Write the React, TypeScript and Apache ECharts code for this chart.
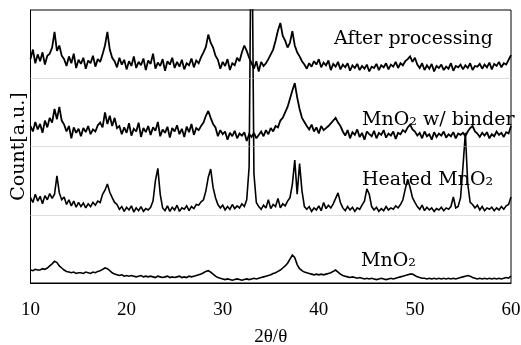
import React, { useEffect, useRef } from "react";
import * as echarts from "echarts";

// 2θ grid: start and step of the sampled patterns (degrees)
const xStart = 10;
const xStep = 0.25;
const xTicks = [10, 20, 30, 40, 50, 60];

const seriesNames = ["After processing", "MnO₂ w/ binder", "Heated MnO₂", "MnO₂"];
const offsets = [3, 2, 1, 0];

// intensities (a.u., relative to each pattern's own baseline band)
const mno2 = [
  0.19, 0.18, 0.2, 0.19, 0.19, 0.21, 0.2,
  0.22, 0.25, 0.28, 0.32, 0.3, 0.25, 0.22, 0.19, 0.17,
  0.16, 0.15, 0.16, 0.14, 0.15, 0.15, 0.14, 0.16, 0.15, 0.14, 0.16, 0.15,
  0.17, 0.18, 0.2, 0.22, 0.21, 0.18, 0.15, 0.13,
  0.12, 0.11, 0.12, 0.1, 0.11, 0.1, 0.11, 0.1, 0.09, 0.1, 0.11, 0.09, 0.1, 0.09, 0.1, 0.09, 0.08, 0.1, 0.09, 0.08, 0.09, 0.1, 0.08, 0.09, 0.08, 0.09, 0.1, 0.08, 0.09, 0.08, 0.1, 0.09, 0.1, 0.11, 0.12, 0.13,
  0.15, 0.17, 0.18, 0.16, 0.13, 0.1, 0.08, 0.07,
  0.06, 0.05, 0.06, 0.05, 0.04, 0.05, 0.06, 0.05, 0.04, 0.05, 0.06, 0.05, 0.06, 0.07, 0.06, 0.07, 0.08, 0.09, 0.1, 0.11,
  0.12, 0.14, 0.15, 0.17, 0.19, 0.22, 0.25, 0.29, 0.35, 0.41, 0.37, 0.27, 0.21, 0.18, 0.16, 0.15,
  0.14, 0.13, 0.12, 0.13, 0.12, 0.13, 0.12, 0.13, 0.14, 0.15,
  0.17, 0.19, 0.16, 0.13, 0.11, 0.1,
  0.09, 0.08, 0.09, 0.08, 0.07, 0.08, 0.07, 0.06, 0.07, 0.06, 0.07, 0.06, 0.05, 0.06, 0.07, 0.06, 0.05, 0.06, 0.07, 0.06, 0.07, 0.08, 0.09, 0.1,
  0.11, 0.12, 0.13, 0.13, 0.11, 0.09, 0.08, 0.07,
  0.07, 0.06, 0.07, 0.06, 0.07, 0.06, 0.07, 0.06, 0.07, 0.06, 0.07, 0.06, 0.07, 0.06, 0.07, 0.08, 0.09,
  0.1, 0.11, 0.1, 0.08,
  0.07, 0.06, 0.07, 0.06, 0.07, 0.06, 0.07, 0.06, 0.07, 0.06, 0.07, 0.06, 0.07, 0.08, 0.07, 0.1,
];

const heated = [
  0.25, 0.18, 0.3, 0.2, 0.27, 0.16, 0.28, 0.22, 0.31, 0.24,
  0.3, 0.57, 0.32, 0.22,
  0.26, 0.15, 0.22, 0.13, 0.2, 0.11, 0.18, 0.12, 0.17, 0.1, 0.16, 0.12, 0.18, 0.14,
  0.2, 0.18, 0.3, 0.36, 0.45, 0.33, 0.25, 0.18,
  0.15, 0.08, 0.12, 0.05, 0.11, 0.07, 0.13, 0.04, 0.1, 0.06, 0.12, 0.05, 0.09, 0.07, 0.11,
  0.2, 0.5, 0.68, 0.3, 0.1,
  0.06, 0.13, 0.05, 0.11, 0.07, 0.14, 0.05, 0.1, 0.08, 0.13, 0.06, 0.12, 0.09, 0.15,
  0.14, 0.19, 0.22, 0.35, 0.55, 0.67, 0.4, 0.25, 0.15,
  0.1, 0.14, 0.07, 0.12, 0.08, 0.15, 0.09, 0.13, 0.1, 0.16, 0.12,
  0.22, 0.7, 5.0, 0.6, 0.18,
  0.12, 0.08, 0.14, 0.1, 0.22, 0.09, 0.15, 0.12, 0.24, 0.1, 0.16, 0.13, 0.2,
  0.25, 0.45, 0.8, 0.3, 0.75, 0.35, 0.12,
  0.08, 0.12, 0.05, 0.1, 0.07, 0.13, 0.06, 0.18, 0.09, 0.14, 0.1, 0.16,
  0.24, 0.32, 0.18,
  0.1, 0.06, 0.12, 0.07, 0.11, 0.05, 0.1, 0.08, 0.14,
  0.2, 0.38, 0.3, 0.12,
  0.07, 0.11, 0.05, 0.09, 0.06, 0.12, 0.07, 0.1, 0.08, 0.13, 0.1, 0.15,
  0.22, 0.38, 0.52, 0.4, 0.25, 0.18,
  0.12, 0.08, 0.14, 0.06, 0.11, 0.07, 0.1, 0.05, 0.09, 0.07, 0.11, 0.06, 0.1, 0.08, 0.12,
  0.26, 0.1, 0.12, 0.25, 0.7, 1.2, 0.45, 0.18,
  0.15, 0.1, 0.14, 0.07, 0.12, 0.06, 0.1, 0.08, 0.11, 0.06, 0.1, 0.07, 0.12, 0.08, 0.13, 0.15, 0.26,
];

const binder = [
  0.3, 0.22, 0.36, 0.25, 0.33, 0.2, 0.38, 0.28,
  0.42, 0.35, 0.55, 0.4, 0.58, 0.38,
  0.32, 0.22, 0.3, 0.12, 0.28, 0.2, 0.26, 0.15, 0.27, 0.21, 0.3, 0.18, 0.25, 0.22, 0.31,
  0.35, 0.28, 0.5, 0.33, 0.45, 0.3, 0.42, 0.27,
  0.3, 0.18, 0.28, 0.2, 0.34, 0.16, 0.26, 0.22, 0.35, 0.14, 0.27, 0.21, 0.3, 0.17, 0.28, 0.23, 0.36, 0.15, 0.25, 0.2, 0.29, 0.13, 0.27, 0.22, 0.31, 0.18, 0.26, 0.14, 0.29, 0.21, 0.33, 0.17, 0.27, 0.24, 0.3,
  0.35, 0.45, 0.52, 0.42, 0.33,
  0.28, 0.15, 0.24, 0.18, 0.22, 0.1, 0.2, 0.15, 0.23, 0.12, 0.19, 0.16, 0.21, 0.08, 0.18, 0.14,
  0.2, 0.12, 0.17, 0.22, 0.15, 0.24, 0.18, 0.27, 0.22, 0.3, 0.28,
  0.38, 0.42, 0.5, 0.58, 0.7, 0.82, 0.93, 0.72, 0.55, 0.42, 0.36, 0.3,
  0.25, 0.32, 0.22, 0.28, 0.19, 0.3, 0.24, 0.27, 0.3, 0.34,
  0.38, 0.42, 0.35, 0.3,
  0.22, 0.16, 0.24, 0.12, 0.21, 0.17, 0.25, 0.14, 0.2, 0.1, 0.22, 0.18, 0.15, 0.23, 0.12, 0.2, 0.17, 0.24, 0.13, 0.19, 0.16, 0.22, 0.11, 0.2, 0.18, 0.24, 0.21,
  0.28, 0.32, 0.25, 0.22,
  0.16, 0.2, 0.12, 0.22, 0.15, 0.18, 0.1, 0.21, 0.14, 0.19, 0.16, 0.22, 0.13, 0.18, 0.15, 0.21, 0.12, 0.19, 0.17, 0.2, 0.15, 0.22,
  0.27, 0.3, 0.22, 0.19,
  0.14, 0.2, 0.16, 0.21, 0.12, 0.18, 0.15, 0.22, 0.17, 0.2, 0.14, 0.21, 0.19, 0.3,
];

const afterProc = [
  0.28, 0.42, 0.22, 0.35, 0.25, 0.38, 0.2, 0.33,
  0.36, 0.45, 0.68, 0.4, 0.48, 0.33,
  0.28, 0.18, 0.32, 0.22, 0.36, 0.15, 0.27, 0.21, 0.3, 0.14, 0.26, 0.22, 0.33, 0.17, 0.28, 0.24,
  0.35, 0.48, 0.68, 0.42, 0.3,
  0.25, 0.16, 0.3, 0.2, 0.27, 0.13, 0.25, 0.18, 0.32, 0.15, 0.24, 0.19, 0.29, 0.12, 0.26, 0.21, 0.36, 0.14, 0.23, 0.18, 0.28, 0.11, 0.25, 0.2, 0.3, 0.15, 0.24, 0.17, 0.27, 0.13, 0.22, 0.19, 0.29, 0.16, 0.26, 0.22, 0.31,
  0.38, 0.46, 0.64, 0.52, 0.45, 0.33,
  0.27, 0.14, 0.24, 0.18, 0.28, 0.12, 0.22, 0.19, 0.3, 0.25,
  0.38, 0.48, 0.4, 0.3,
  0.22, 0.14, 0.25, 0.1, 0.24, 0.18, 0.22, 0.28, 0.35, 0.42,
  0.55, 0.7, 0.81, 0.62, 0.55,
  0.45, 0.52, 0.69, 0.48, 0.38,
  0.32, 0.25, 0.2, 0.14, 0.22, 0.17, 0.25, 0.2, 0.28, 0.16, 0.23, 0.19, 0.26, 0.12, 0.21, 0.17, 0.24, 0.13, 0.2, 0.16, 0.22, 0.11, 0.19, 0.15, 0.21, 0.12, 0.18, 0.14, 0.2, 0.1, 0.17, 0.15, 0.21, 0.12, 0.19, 0.16, 0.22, 0.13, 0.2, 0.17, 0.24, 0.15, 0.22, 0.19, 0.25,
  0.28, 0.32, 0.24, 0.3, 0.2,
  0.15, 0.22, 0.12, 0.19, 0.14, 0.21, 0.1, 0.18, 0.15, 0.2, 0.12, 0.17, 0.14, 0.22, 0.11, 0.18, 0.16, 0.2, 0.13, 0.19, 0.15, 0.22, 0.12, 0.18, 0.17, 0.21, 0.14, 0.2, 0.16, 0.23, 0.13, 0.21, 0.18, 0.24, 0.16, 0.22, 0.2, 0.27, 0.34,
];

const patterns = [afterProc, binder, heated, mno2];
const lineWidths = [1.8, 1.8, 1.6, 1.6];
const bandLines = [1, 2, 3];

const WORD_FONT = '"DejaVu Serif", serif';
const NUM_FONT = '"Liberation Serif", "Times New Roman", serif';

export default function App() {
  const ref = useRef<HTMLDivElement>(null);

  useEffect(() => {
    document.body.style.margin = "0";
    if (!ref.current) return;
    const chart = echarts.init(ref.current, undefined, { renderer: "svg" });

    const series: any[] = patterns.map((vals, k) => ({
      name: seriesNames[k],
      type: "line",
      data: vals.map((v, i) => [xStart + i * xStep, v + offsets[k]]),
      symbol: "none",
      showSymbol: false,
      clip: true,
      lineStyle: { color: "#000", width: lineWidths[k], join: "miter", miterLimit: 2 },
      z: 3,
    }));
    series.push({
      type: "line",
      data: [],
      silent: true,
      markLine: {
        silent: true,
        symbol: "none",
        label: { show: false },
        lineStyle: { color: "#bdbdbd", type: "dotted", width: 1 },
        data: bandLines.map((y) => ({ yAxis: y })),
      },
      z: 1,
    });

    const labelPos = [
      [334, 37],
      [362, 118],
      [362, 178],
      [361, 259],
    ];

    chart.setOption({
      animation: false,
      grid: {
        left: 30.5,
        right: 10,
        top: 10,
        bottom: 62,
        outerBoundsMode: "none",
        containLabel: false,
        show: true,
        borderColor: "#000",
        borderWidth: 1,
        backgroundColor: "transparent",
      },
      xAxis: {
        type: "value",
        min: 10,
        max: 60,
        interval: 10,
        name: "2θ/θ",
        nameLocation: "middle",
        nameGap: 43,
        nameTextStyle: { fontFamily: NUM_FONT, fontSize: 19, color: "#000" },
        axisLine: { show: true, onZero: false, lineStyle: { color: "#000", width: 1 } },
        axisTick: { show: false },
        splitLine: { show: false },
        axisLabel: {
          fontFamily: NUM_FONT,
          fontSize: 19,
          color: "#000",
          margin: 16,
          customValues: xTicks,
        },
      },
      yAxis: {
        type: "value",
        min: 0,
        max: 4,
        interval: 1,
        name: "Count[a.u.]",
        nameLocation: "middle",
        nameGap: 4,
        nameTextStyle: { fontFamily: WORD_FONT, fontSize: 19, color: "#000" },
        axisLine: { show: true, lineStyle: { color: "#000", width: 1 } },
        axisTick: { show: false },
        axisLabel: { show: false },
        splitLine: { show: false },
      },
      series,
      graphic: seriesNames.map((t, k) => ({
        type: "text",
        x: labelPos[k][0],
        y: labelPos[k][1],
        z: 10,
        style: {
          text: t,
          font: `19px ${WORD_FONT}`,
          fill: "#000",
          align: "left",
          verticalAlign: "middle",
        },
      })),
    });

    return () => chart.dispose();
  }, []);

  return (
    <div
      ref={ref}
      style={{ position: "fixed", left: 0, top: 0, width: 521, height: 345 }}
    />
  );
}
